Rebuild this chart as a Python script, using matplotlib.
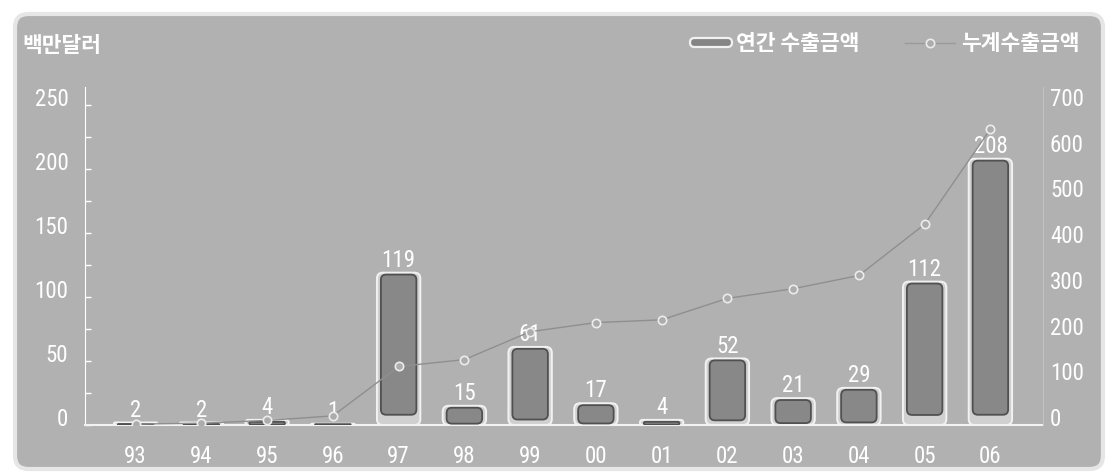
import matplotlib
matplotlib.use('Agg')
import matplotlib.pyplot as plt
import matplotlib.transforms as mtransforms
from matplotlib.patches import FancyBboxPatch
from matplotlib.lines import Line2D
from matplotlib import font_manager

years = ['93', '94', '95', '96', '97', '98', '99', '00', '01', '02', '03', '04', '05', '06']
annual = [2, 2, 4, 1, 119, 15, 61, 17, 4, 52, 21, 29, 112, 208]
cumulative = [2, 4, 10, 20, 128, 143, 204, 224, 230, 277, 298, 327, 439, 647]
left_ticks = [0, 50, 100, 150, 200, 250]
right_ticks = [0, 100, 200, 300, 400, 500, 600, 700]

# pick a narrow face for numbers if there is one
num_font = 'DejaVu Sans'
for cand in ['Liberation Sans Narrow', 'Roboto Condensed', 'Open Sans Condensed']:
    try:
        font_manager.findfont(cand, fallback_to_default=False)
        num_font = cand
        break
    except Exception:
        pass
kr_font = ['Noto Sans CJK KR', 'DejaVu Sans']
NUM_SIZE = 16.5

W, H = 1117, 477
fig = plt.figure(figsize=(W / 100, H / 100), dpi=100)
fig.patch.set_facecolor('white')

# rounded grey panel
panel = FancyBboxPatch((15 / W, 7 / H), 1088 / W, 455 / H,
                       boxstyle='round,pad=0,rounding_size=0.012',
                       transform=fig.transFigure, facecolor='#b1b1b1',
                       edgecolor='#e6e6e6', linewidth=3, mutation_aspect=W / H, zorder=-10)
fig.patches.append(panel)

ax = fig.add_axes([85 / W, 51 / H, (1043 - 85) / W, (426 - 88) / H])
ax.patch.set_visible(False)
ymax = 264
ax.set_ylim(0, ymax)
ax.set_xlim(-0.77, 13.8)
x = list(range(len(years)))

asp = (ax.get_position().width * W / (13.8 + 0.77)) / (ax.get_position().height * H / ymax)

outer = ax.bar(x, annual, width=0.66, color='#cfcfcf')
for r, v in zip(outer, annual):
    x0, w, h = r.get_x(), r.get_width(), r.get_height()
    r.set_visible(False)
    rs = min(0.09, h / asp / 2)
    ax.add_patch(FancyBboxPatch((x0, 0), w, h, boxstyle=f'round,pad=0,rounding_size={rs}',
                                mutation_aspect=asp, facecolor='#d0d0d0',
                                edgecolor='#f2f2f2', linewidth=1.4, zorder=2))
    ib = min(0.07 * h, 8)
    ih = max(h - ib - 1.5, 0.6)
    ax.add_patch(FancyBboxPatch((x0 + 0.06, ib), w - 0.12, ih,
                                boxstyle=f'round,pad=0,rounding_size={min(0.08, ih / asp / 2)}',
                                mutation_aspect=asp, facecolor='#888888',
                                edgecolor='#505050', linewidth=1.3, zorder=3))
    ax.text(r.get_x() + w / 2, h + 1.5, str(v), ha='center', va='bottom',
            color='white', fontsize=NUM_SIZE, family=num_font, zorder=5)

ax.set_xticks(x)
ax.set_xticklabels(years)
ax.set_yticks(left_ticks)
ax.set_yticks(range(0, 251, 25), minor=True)
ax.tick_params(axis='x', length=0, pad=14, colors='white', labelsize=NUM_SIZE)
ax.tick_params(axis='y', which='both', direction='in', length=4, width=1,
               colors='white', labelsize=NUM_SIZE, pad=12)
for lab in ax.get_xticklabels() + ax.get_yticklabels():
    lab.set_family(num_font)
up = mtransforms.ScaledTranslation(0, 9 / 100, fig.dpi_scale_trans)
for lab in ax.get_yticklabels():
    lab.set_transform(lab.get_transform() + up)

for s in ['top', 'right']:
    ax.spines[s].set_visible(False)
ax.spines['left'].set_color('white')
ax.spines['bottom'].set_color('#f2f2f2')
ax.spines['bottom'].set_linewidth(1.5)

ax2 = ax.twinx()
ax2.set_ylim(0, ymax * 2.8)
ax2.plot(x, cumulative, color='#8f8f8f', linewidth=1, marker='o', markersize=6,
         markerfacecolor='#acacac', markeredgecolor='#ececec', markeredgewidth=1.2, zorder=4)
ax2.set_yticks(right_ticks)
ax2.tick_params(axis='y', length=0, colors='white', labelsize=NUM_SIZE, pad=5)
for lab in ax2.get_yticklabels():
    lab.set_family(num_font)
    lab.set_transform(lab.get_transform() + up)
for s in ['top', 'left', 'bottom']:
    ax2.spines[s].set_visible(False)
ax2.spines['right'].set_color('#c2c2c2')

# unit label and legend
fig.text(22 / W, 1 - 46 / H, '백만달러', family=kr_font, fontsize=15.5, fontweight='bold',
         color='white', va='center', ha='left')
fig.patches.append(FancyBboxPatch((690 / W, 1 - 48 / H), 42 / W, 9 / H,
                                  boxstyle='round,pad=0,rounding_size=0.004',
                                  mutation_aspect=W / H, transform=fig.transFigure,
                                  facecolor='#858585', edgecolor='#f2f2f2', linewidth=1.6))
fig.text(736 / W, 1 - 44 / H, '연간 수출금액', family=kr_font, fontsize=15.5, fontweight='bold',
         color='white', va='center', ha='left')
fig.lines.append(Line2D([905 / W, 955 / W], [1 - 44 / H, 1 - 44 / H], transform=fig.transFigure,
                        color='#9a9a9a', linewidth=1))
fig.lines.append(Line2D([930 / W], [1 - 44 / H], transform=fig.transFigure, marker='o',
                        markersize=6, markerfacecolor='#acacac', markeredgecolor='#ececec',
                        markeredgewidth=1.2, linestyle='none'))
fig.text(961 / W, 1 - 44 / H, '누계수출금액', family=kr_font, fontsize=15.5, fontweight='bold',
         color='white', va='center', ha='left')

fig.savefig('out.png', dpi=100)
